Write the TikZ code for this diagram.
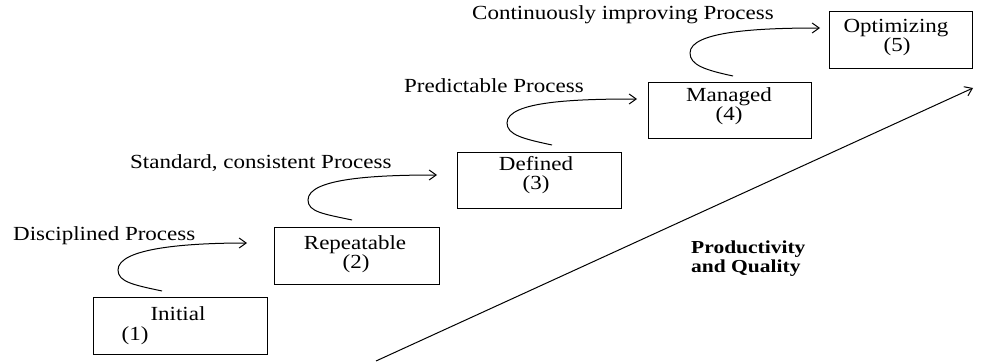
\documentclass[tikz,border=0pt]{standalone}
\usepackage{fontspec}
\setmainfont{Liberation Serif}
\usetikzlibrary{arrows.meta}
% text is set slightly compressed in height
\newcommand{\vsq}[1]{\scalebox{1}[0.87]{#1}}
\newcommand{\vsqb}[1]{\scalebox{1}[0.85]{#1}}
\begin{document}
\begin{tikzpicture}[x=1pt,y=-1pt,
  stagebox/.style={draw, line width=1pt, inner sep=0pt},
  txt/.style={inner sep=0pt, font=\fontsize{23}{26}\selectfont},
  boldtxt/.style={inner sep=0pt, font=\fontsize{21.5}{24}\selectfont\bfseries},
  hook/.style={line width=1pt, -{Straight Barb[length=7pt,width=10pt,line width=1pt]}},
]
\useasboundingbox (0,0) rectangle (1000,361);

% maturity levels
\node[stagebox, minimum width=174pt, minimum height=57pt] (initial)    at (180,325.5) {};
\node[stagebox, minimum width=165pt, minimum height=57pt] (repeatable) at (356.5,255.5) {};
\node[stagebox, minimum width=164pt, minimum height=56pt] (defined)    at (539,180) {};
\node[stagebox, minimum width=163pt, minimum height=56pt] (managed)    at (729.5,110) {};
\node[stagebox, minimum width=143pt, minimum height=56pt] (optimizing) at (900.5,40) {};

% level names and numbers
\node[txt, anchor=base] (t1a) at (178,320) {\vsq{Initial}};
\node[txt, anchor=base] (t1b) at (135,340) {\vsq{(1)}};
\node[txt, anchor=base] (t2a) at (355,249) {\vsq{Repeatable}};
\node[txt, anchor=base] (t2b) at (356,268) {\vsq{(2)}};
\node[txt, anchor=base] (t3a) at (536,170) {\vsq{Defined}};
\node[txt, anchor=base] (t3b) at (536,189) {\vsq{(3)}};
\node[txt, anchor=base] (t4a) at (729,101) {\vsq{Managed}};
\node[txt, anchor=base] (t4b) at (729,120) {\vsq{(4)}};
\node[txt, anchor=base] (t5a) at (896,33) {\vsq{Optimizing}};
\node[txt, anchor=base] (t5b) at (897,52) {\vsq{(5)}};

% process labels
\node[txt, anchor=base west] (p1) at (13,240) {\vsq{Disciplined Process}};
\node[txt, anchor=base west] (p2) at (130,168) {\vsq{Standard, consistent Process}};
\node[txt, anchor=base west] (p3) at (404,92) {\vsq{Predictable Process}};
\node[txt, anchor=base west] (p4) at (472,20) {\vsq{Continuously improving Process}};

% curved transitions between levels
\coordinate (s1) at (162,291); \coordinate (l1) at (118,270); \coordinate (e1) at (247,243);
\coordinate (s2) at (352,220); \coordinate (l2) at (308,200); \coordinate (e2) at (437,175);
\coordinate (s3) at (552,145); \coordinate (l3) at (507,123); \coordinate (e3) at (637,99);
\coordinate (s4) at (733,76);  \coordinate (l4) at (690,53);  \coordinate (e4) at (820,28);
\foreach \i in {1,2,3,4}{
  \draw[hook] (s\i) .. controls +(-28,-6) and +(0,12) .. (l\i)
                    .. controls +(0,-22) and +(-60,0) .. (e\i);
}

% overall trend
\coordinate (base) at (376,361);
\coordinate (top) at (973,88);
\draw[hook] (base) -- (top);
\node[boldtxt, anchor=base west] (q1) at (691,253) {\vsqb{Productivity}};
\node[boldtxt, anchor=base west] (q2) at (691,272) {\vsqb{and Quality}};
\end{tikzpicture}
\end{document}
